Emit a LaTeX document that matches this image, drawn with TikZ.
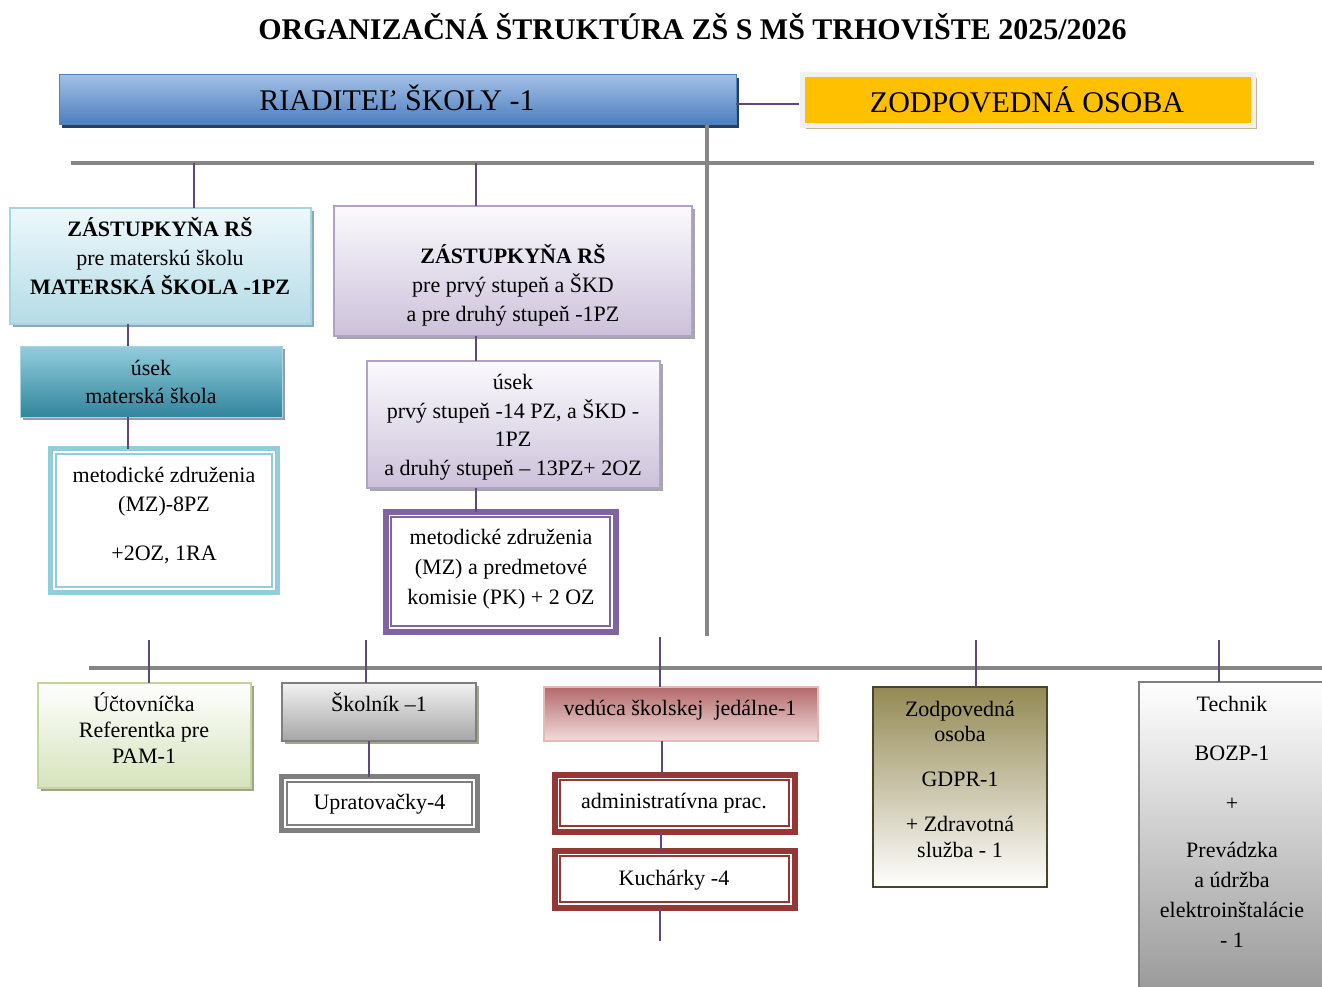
\documentclass[tikz,border=0pt]{standalone}
\usepackage{fontspec}
\setmainfont{Liberation Serif}
\usetikzlibrary{shadows}
\definecolor{cpurple}{HTML}{5F497A}
\definecolor{cgray}{HTML}{868686}
\definecolor{rsTop}{HTML}{A3BFE5}
\definecolor{rsMid}{HTML}{5E8DC9}
\definecolor{rsBot}{HTML}{4A7EBF}
\definecolor{rsLine}{HTML}{4F81BD}
\definecolor{rsShadow}{HTML}{243F60}
\definecolor{zoYellow}{HTML}{FFC000}
\definecolor{zoFrame}{HTML}{F0F0F0}
\definecolor{zoShadow}{HTML}{C4B595}
\definecolor{zlTop}{HTML}{EEF8FB}
\definecolor{zlBot}{HTML}{B4DCE7}
\definecolor{zlLine}{HTML}{A5D5E2}
\definecolor{zlShadow}{HTML}{8FA9B5}
\definecolor{zluTop}{HTML}{93CDDD}
\definecolor{zluMid}{HTML}{6CB2C6}
\definecolor{zluBot}{HTML}{31859C}
\definecolor{zluShadow}{HTML}{9B98B5}
\definecolor{mzlC}{HTML}{92CDDC}
\definecolor{lavTop}{HTML}{FBFAFD}
\definecolor{lavBot}{HTML}{CCC1DA}
\definecolor{lavLine}{HTML}{B3A2C7}
\definecolor{graySh}{HTML}{A6A6A6}
\definecolor{mzmC}{HTML}{8064A2}
\definecolor{grnBot}{HTML}{D6E3BC}
\definecolor{grnLine}{HTML}{C3D69B}
\definecolor{grnShadow}{HTML}{9FA58C}
\definecolor{skTop}{HTML}{F2F2F2}
\definecolor{skBot}{HTML}{A5A5A5}
\definecolor{skLine}{HTML}{7F7F7F}
\definecolor{skShadow}{HTML}{A5A58C}
\definecolor{vedTop}{HTML}{B46A6C}
\definecolor{vedBot}{HTML}{F2DCDB}
\definecolor{vedLine}{HTML}{E6B9B8}
\definecolor{redC}{HTML}{953735}
\definecolor{gdTop}{HTML}{948A54}
\definecolor{gdMid}{HTML}{DDD9C3}
\definecolor{gdLine}{HTML}{4A452A}
\definecolor{tcBot}{HTML}{999999}
\newcommand\innerframe[2]{\draw[#2, line width=1.5pt] ([xshift=5.5pt,yshift=-5.5pt]#1.north west) rectangle ([xshift=-5.5pt,yshift=5.5pt]#1.south east);}
\begin{document}
\begin{tikzpicture}[x=1pt,y=-1pt,
  box/.style={rectangle, inner sep=0pt, outer sep=0pt},
  dblbox/.style={rectangle, inner sep=0pt, outer sep=0pt, draw=#1, line width=5pt, fill=white},
  conn/.style={draw=cpurple, line width=2.2pt},
  gline/.style={draw=cgray, line width=4pt},
  txt/.style={inner sep=0pt, align=center, anchor=base, font=\fontsize{22}{29}\selectfont},
  shd/.style={drop shadow={shadow xshift=3pt, shadow yshift=-3pt, fill=#1, opacity=1}}
]
\useasboundingbox (0,0) rectangle (1322,987);
\fill[white] (0,0) rectangle (1322,987);

% title
\node[txt, font=\bfseries\fontsize{30}{36}\selectfont] (title) at (692.5,40) {ORGANIZAČNÁ ŠTRUKTÚRA ZŠ S MŠ TRHOVIŠTE 2025/2026};

% boxes
\node[box, shd=rsShadow, draw=rsLine, line width=1pt, top color=rsTop, middle color=rsMid, bottom color=rsBot, minimum width=677pt, minimum height=50pt] (rs) at (397.5,100) {};
\node[box, drop shadow={shadow xshift=3.5pt, shadow yshift=-3.5pt, fill=zoShadow, opacity=1}, draw=zoFrame, line width=5pt, fill=zoYellow, minimum width=451pt, minimum height=51pt] (zo) at (1028,100) {};

\node[box, shd=zlShadow, draw=zlLine, line width=1.5pt, top color=zlTop, bottom color=zlBot, minimum width=301pt, minimum height=116pt] (zl) at (160.5,266) {};
\node[box, shd=zluShadow, draw=zlLine, line width=1pt, top color=zluTop, middle color=zluMid, bottom color=zluBot, minimum width=262pt, minimum height=71pt] (zlu) at (151,381.5) {};
\node[dblbox=mzlC, minimum width=227pt, minimum height=144pt] (mzl) at (164,520.5) {};
\innerframe{mzl}{mzlC}

\node[box, shd=graySh, draw=lavLine, line width=1.5pt, top color=lavTop, bottom color=lavBot, minimum width=358pt, minimum height=130pt] (zm) at (513,271) {};
\node[box, shd=graySh, draw=lavLine, line width=1.5pt, top color=lavTop, bottom color=lavBot, minimum width=293pt, minimum height=127pt] (zmu) at (513.5,424.5) {};
\node[dblbox=mzmC, line width=6pt, minimum width=230pt, minimum height=120pt] (mzm) at (500.5,571.5) {};
\innerframe{mzm}{mzmC}

\node[box, shd=grnShadow, draw=grnLine, line width=1.5pt, top color=white, bottom color=grnBot, minimum width=213pt, minimum height=105pt] (uct) at (144.5,735.5) {};
\node[box, shd=skShadow, draw=skLine, line width=1.2pt, top color=skTop, bottom color=skBot, minimum width=194pt, minimum height=58pt] (skol) at (379,712) {};
\node[dblbox=skLine, minimum width=196pt, minimum height=54pt] (upr) at (379.5,803.5) {};
\innerframe{upr}{skLine}

\node[box, draw=vedLine, line width=1.5pt, top color=vedTop, bottom color=vedBot, minimum width=274pt, minimum height=54pt] (ved) at (681,714) {};
\node[dblbox=redC, line width=6pt, minimum width=240pt, minimum height=57pt] (adm) at (674.5,803) {};
\innerframe{adm}{redC}
\node[dblbox=redC, line width=6pt, minimum width=240pt, minimum height=57pt] (kuch) at (674.5,879) {};
\innerframe{kuch}{redC}

\node[box, draw=gdLine, line width=1.5pt, top color=gdTop, middle color=gdMid, bottom color=white, minimum width=174pt, minimum height=200pt] (gdpr) at (960,787) {};
\node[box, draw=skLine, line width=1.5pt, top color=white, bottom color=tcBot, minimum width=185pt, minimum height=313pt] (tech) at (1231.5,838.5) {};

% grey lines
\coordinate (gtl) at (71,163);
\coordinate (gtr) at (1314,163);
\coordinate (gvb) at (707,636);
\coordinate (gbl) at (89,668);
\coordinate (gbr) at (1322,668);
\draw[gline] (gtl) -- (gtr);
\draw[gline] (rs.south -| gvb) -- (gvb);
\draw[gline] (gbl) -- (gbr);

% purple connectors
\draw[conn, shorten >=4pt] ([yshift=-4pt]rs.east) -- ([yshift=-4pt]rs.east -| zo.west);
\coordinate (x194) at (194,163);
\coordinate (x476) at (476,163);
\coordinate (x128) at (128,0);
\draw[conn] (x194) -- (x194 |- zl.north);
\draw[conn] (x476) -- (x476 |- zm.north);
\draw[conn] (zl.south -| x128) -- (zlu.north -| x128);
\draw[conn] (zlu.south -| x128) -- (mzl.north -| x128);
\draw[conn] (zm.south -| x476) -- (zmu.north -| x476);
\draw[conn] (zmu.south -| x476) -- (mzm.north -| x476);

\coordinate (b149) at (149,640);
\coordinate (b366) at (366,640);
\coordinate (b660) at (660,637);
\coordinate (b976) at (976,640);
\coordinate (b1219) at (1219,640);
\draw[conn] (b149) -- (b149 |- uct.north);
\draw[conn] (b366) -- (b366 |- skol.north);
\draw[conn] (b660) -- (b660 |- ved.north);
\draw[conn] (b976) -- (b976 |- gdpr.north);
\draw[conn] (b1219) -- (b1219 |- tech.north);

\coordinate (x369) at (369,0);
\coordinate (x662) at (662,0);
\coordinate (x661) at (661,0);
\coordinate (kend) at (660,941);
\draw[conn] (skol.south -| x369) -- (upr.north -| x369);
\draw[conn] (ved.south -| x662) -- (adm.north -| x662);
\draw[conn] (adm.south -| x661) -- (kuch.north -| x661);
\draw[conn] (kuch.south -| kend) -- (kend);

% texts (anchor base = baseline of the last line)
\node[txt, font=\fontsize{30}{36}\selectfont] (rs-t) at (397,111) {RIADITEĽ ŠKOLY -1};
\node[txt, font=\fontsize{30}{36}\selectfont] (zo-t) at (1027,113) {ZODPOVEDNÁ OSOBA};
\node[txt] (zl-t) at (160,294) {\textbf{ZÁSTUPKYŇA RŠ}\\pre materskú školu\\\textbf{MATERSKÁ ŠKOLA -1PZ}};
\node[txt, font=\fontsize{22}{28}\selectfont] (zlu-t) at (151,403) {úsek\\materská škola};
\node[txt] (mzl-t) at (164,560) {metodické združenia\\(MZ)-8PZ\\[20pt]+2OZ, 1RA};
\node[txt] (zm-t) at (513,321) {\textbf{ZÁSTUPKYŇA RŠ}\\pre prvý stupeň a ŠKD\\a pre druhý stupeň -1PZ};
\node[txt, font=\fontsize{22}{28.5}\selectfont] (zmu-t) at (513,475) {úsek\\prvý stupeň -14 PZ, a ŠKD -\\1PZ\\a druhý stupeň – 13PZ+ 2OZ};
\node[txt, font=\fontsize{22}{30}\selectfont] (mzm-t) at (501,604) {metodické združenia\\(MZ) a predmetové\\komisie (PK) + 2 OZ};
\node[txt, font=\fontsize{22}{26}\selectfont] (uct-t) at (144,763) {Účtovníčka\\Referentka pre\\PAM-1};
\node[txt] (skol-t) at (379,711) {Školník –1};
\node[txt] (upr-t) at (379.5,809) {Upratovačky-4};
\node[txt] (ved-t) at (680,715) {vedúca školskej\ \ jedálne-1};
\node[txt] (adm-t) at (674,808) {administratívna prac.};
\node[txt] (kuch-t) at (674,885) {Kuchárky -4};
\node[txt, font=\fontsize{22}{25.5}\selectfont] (gdpr-t) at (960,857) {Zodpovedná\\osoba\\[19.5pt]GDPR-1\\[19.5pt]+ Zdravotná\\služba - 1};
\node[txt, font=\fontsize{22}{30}\selectfont] (tech-t) at (1232,947) {Technik\\[19pt]BOZP-1\\[20pt]+\\[17pt]Prevádzka\\a údržba\\elektroinštalácie\\- 1};
\end{tikzpicture}
\end{document}
